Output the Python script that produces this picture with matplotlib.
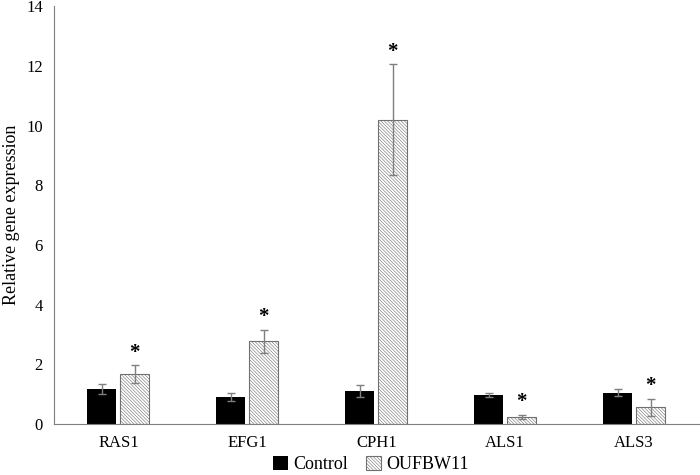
import matplotlib.pyplot as plt
import numpy as np

plt.rcParams['font.family'] = ['Liberation Serif', 'DejaVu Serif']
plt.rcParams['hatch.linewidth'] = 0.4

genes = ['RAS1', 'EFG1', 'CPH1', 'ALS1', 'ALS3']
control = [1.18, 0.91, 1.12, 0.97, 1.05]
control_err = [0.18, 0.14, 0.2, 0.06, 0.12]
treated = [1.68, 2.78, 10.2, 0.25, 0.57]
treated_err = [0.3, 0.38, 1.85, 0.07, 0.28]
significant = [True, True, True, True, True]

fig = plt.figure(figsize=(7, 4.75), dpi=100)
ax = fig.add_axes([0.077, 0.107, 0.921, 0.88])

x = np.arange(len(genes))
w = 0.225
gap = 0.03
errstyle = dict(ecolor='#7f7f7f', elinewidth=1, capsize=3, capthick=1)

ax.bar(x - (w + gap) / 2, control, w, color='black', yerr=control_err,
       error_kw=errstyle, label='Control')
ax.bar(x + (w + gap) / 2, treated, w, color='white', edgecolor='#707070',
       hatch='\\' * 10, linewidth=0.8, yerr=treated_err,
       error_kw=errstyle, label='OUFBW11')

# significance stars above the treated error bars
for i in range(len(genes)):
    if significant[i]:
        ax.text(x[i] + (w + gap) / 2, treated[i] + treated_err[i] + 0.08, '*',
                ha='center', va='bottom', fontsize=15, fontweight='bold')

ax.set_xlim(-0.5, len(genes) - 0.5)
ax.set_ylim(0, 14)
ax.set_yticks(range(0, 15, 2))
ax.set_xticks(x)
ax.set_xticklabels(genes)
ax.tick_params(axis='both', length=0, labelsize=12, pad=8)
ax.set_ylabel('Relative gene expression', fontsize=13)

for side in ['top', 'right']:
    ax.spines[side].set_visible(False)
for side in ['left', 'bottom']:
    ax.spines[side].set_color('#7f7f7f')

fig.legend(loc='lower center', bbox_to_anchor=(0.53, 0.0), ncol=2,
           frameon=False, fontsize=13, handlelength=0.8, handleheight=0.8,
           handletextpad=0.3, columnspacing=1.0, borderpad=0.1,
           borderaxespad=0)

fig.savefig('out.png')
